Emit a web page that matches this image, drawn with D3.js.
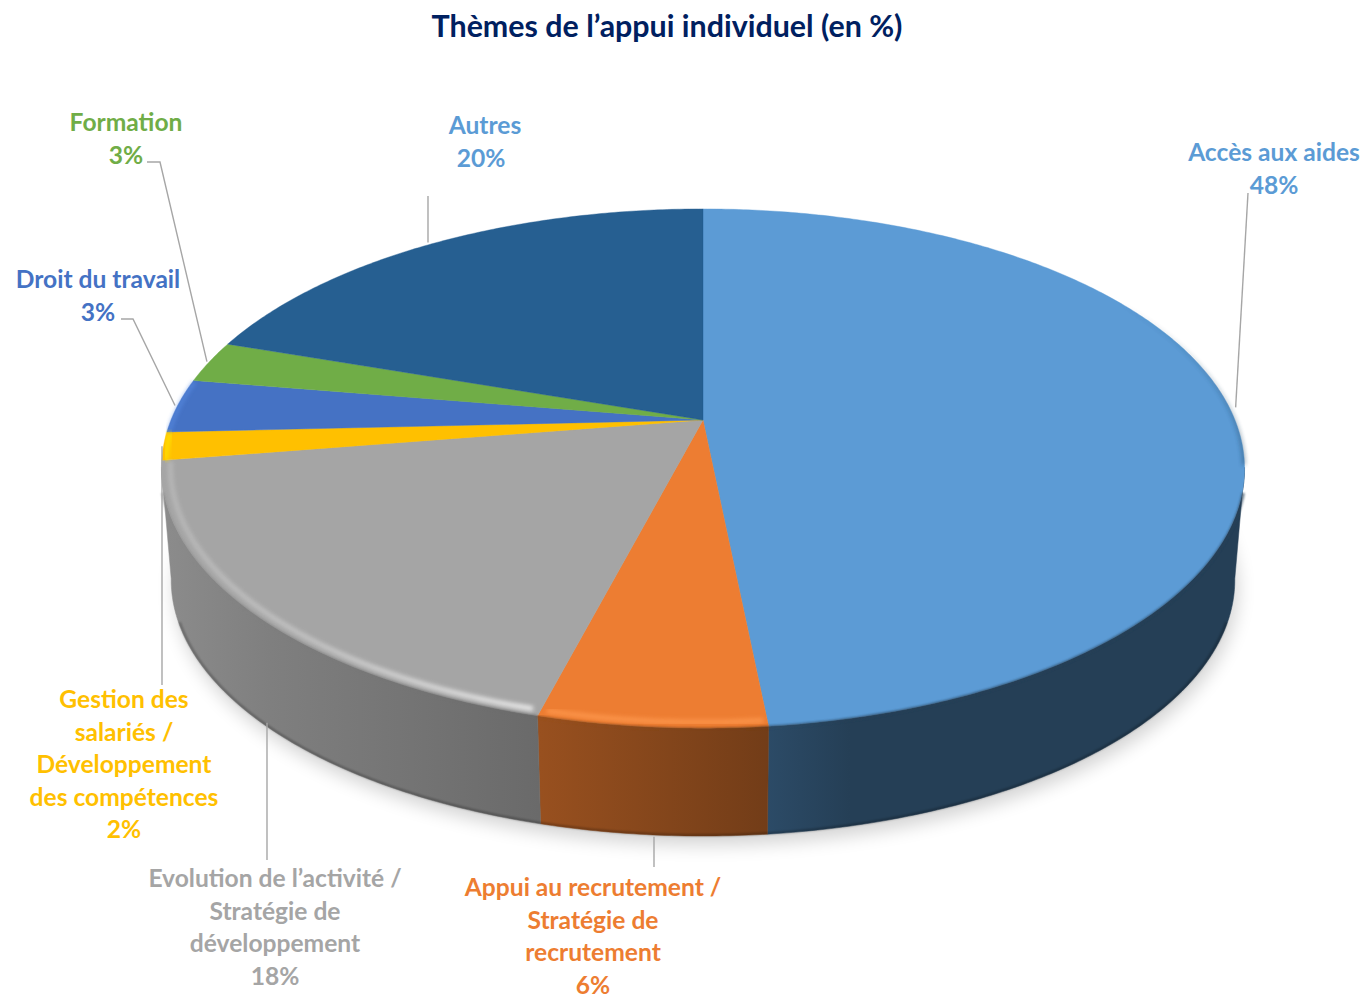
<!DOCTYPE html>
<html>
<head>
<meta charset="utf-8">
<script src="https://cdn.jsdelivr.net/npm/d3@7"></script>
<style>
  html, body { margin: 0; background: #fff; }
  svg { display: block; }
  text { font-family: Lato, "Open Sans", sans-serif; font-weight: 700; }
</style>
</head>
<body>
<div id="chart"></div>
<script>
const categories = ['Accès aux aides', 'Appui au recrutement / Stratégie de recrutement',
  'Evolution de l’activité / Stratégie de développement', 'Gestion des salariés / Développement des compétences',
  'Droit du travail', 'Formation', 'Autres'];
const values = [48.4, 5.7, 18.4, 1.75, 3.35, 2.6, 19.8];
const sliceColors = ['#5b9bd5', '#ed7d31', '#a5a5a5', '#ffc000', '#4472c4', '#70ad47', '#255e91'];
const labelColors = ['#5b9bd5', '#ed7d31', '#a5a5a5', '#ffc000', '#4472c4', '#70ad47', '#5b9bd5'];
const labelLines = [
  ['Accès aux aides'],
  ['Appui au recrutement /', 'Stratégie de', 'recrutement'],
  ['Evolution de l’activité /', 'Stratégie de', 'développement'],
  ['Gestion des', 'salariés /', 'Développement', 'des compétences'],
  ['Droit du travail'],
  ['Formation'],
  ['Autres']
];

const width = 1365, height = 994;

// label layout: centre x, y of first line, x of the % line when it differs
const labelPos = [[1274, 161], [593, 896], [275, 887], [124, 708], [98, 288], [126, 131], [485, 134]];
const pctX = [1274, 593, 275, 124, 98, 126, 481];
// where the leader leaves the label, rim it ends on, how far it reaches, and if it stays vertical
const leaderStart = [[[1248, 193]], [[654, 867]], [[267, 860]], [[162, 685]], [[121, 319], [133, 319]], [[147, 162], [160, 162]], [[428, 196]]];
const leaderRim = ['top', 'bottom', 'bottom', 'top', 'top', 'top', 'top'];
const leaderReach = [1.012, 1.005, 1.005, 1.005, 1.005, 1.005, 1.005];
const leaderVertical = [false, true, true, true, false, false, true];

// perspective disc: the pie centre sits above the middle of the ellipse
const cx = 703, apexY = 420, k = -0.187, rx = 532, ry = 172;
const midY = 468.5, depth = 111.5, lowX = 0.982, lowY = 0.986;

function topPoint(a, r = 1) {
  const u = r * Math.sin(a), v = -r * Math.cos(a), w = 1 + k * v;
  return [cx + rx * u / w, (apexY + ry * v) / w];
}
function lowPoint(a, r = 1) {
  const p = topPoint(a, r);
  return [cx + (p[0] - cx) * lowX, midY + (p[1] - midY) * lowY + depth];
}
function sample(a0, a1) {
  const n = Math.max(2, Math.ceil(Math.abs(a1 - a0) / 0.01));
  return d3.range(n + 1).map(i => a0 + (a1 - a0) * i / n);
}

const rad = d => d * Math.PI / 180;
const pct = d3.format('.0f');
const line = d3.line();

const pie = d3.pie().sort(null).value(d => d)(values);

const svg = d3.select('#chart').append('svg')
  .attr('width', width)
  .attr('height', height);

const defs = svg.append('defs');
[['blurShadow', 9], ['blurRim', 2], ['blurEdge', 1], ['blurSoft', 0.6]].forEach(f => {
  defs.append('filter').attr('id', f[0])
    .attr('x', '-10%').attr('y', '-10%').attr('width', '120%').attr('height', '120%')
    .append('feGaussianBlur').attr('stdDeviation', f[1]);
});

// horizontal shading of the wall, light on the left and dark on the right
const shadeX = [160, 270, 540, 765, 850, 1250];
const shadeK = [0.85, 0.77, 0.64, 0.485, 0.405, 0.405];
const shade = d3.scaleLinear().domain(shadeX).range(shadeK);

pie.forEach((d, i) => {
  const c = d3.rgb(sliceColors[i]);
  const g = defs.append('linearGradient').attr('id', 'wall' + i)
    .attr('gradientUnits', 'userSpaceOnUse')
    .attr('x1', shadeX[0]).attr('x2', shadeX[shadeX.length - 1]).attr('y1', 0).attr('y2', 0);
  shadeX.forEach(x => {
    const s = shade(x);
    g.append('stop')
      .attr('offset', (x - shadeX[0]) / (shadeX[shadeX.length - 1] - shadeX[0]))
      .attr('stop-color', d3.rgb(c.r * s, c.g * s, c.b * s));
  });
});

// rim strokes that fade along their length
const blueRim = defs.append('linearGradient').attr('id', 'rimBlue')
  .attr('gradientUnits', 'userSpaceOnUse')
  .attr('x1', 0).attr('x2', 0).attr('y1', 300).attr('y2', 480);
blueRim.append('stop').attr('offset', 0).attr('stop-color', '#21435f').attr('stop-opacity', 0);
blueRim.append('stop').attr('offset', 1).attr('stop-color', '#21435f').attr('stop-opacity', 1);
const greyRim = defs.append('linearGradient').attr('id', 'rimGrey')
  .attr('gradientUnits', 'userSpaceOnUse')
  .attr('x1', 170).attr('x2', 540).attr('y1', 0).attr('y2', 0);
greyRim.append('stop').attr('offset', 0).attr('stop-color', '#b8b8b8');
greyRim.append('stop').attr('offset', 0.45).attr('stop-color', '#c8c8c8');
greyRim.append('stop').attr('offset', 1).attr('stop-color', '#f0f0f0');

// shadow on the page under the pie
const lowOutline = sample(0, 2 * Math.PI).map(a => lowPoint(a));
svg.append('path')
  .attr('d', line(lowOutline) + 'Z')
  .attr('transform', 'translate(3,9)')
  .attr('fill', '#000')
  .attr('opacity', 0.17)
  .attr('filter', 'url(#blurShadow)');

// only the front of the wall can be seen, between the two widest points of the ellipse
const frontFrom = rad(100.5), frontTo = rad(259.5);
const clampFront = d => [Math.max(d.startAngle, frontFrom), Math.min(d.endAngle, frontTo)];

const walls = svg.append('g').attr('class', 'walls');
pie.forEach((d, i) => {
  const [a0, a1] = clampFront(d);
  if (a1 <= a0) return;
  const as = sample(a0, a1);
  walls.append('path')
    .attr('d', line(as.map(a => topPoint(a)).concat(as.slice().reverse().map(a => lowPoint(a)))) + 'Z')
    .attr('fill', `url(#wall${i})`)
    .attr('stroke', `url(#wall${i})`)
    .attr('stroke-width', 0.5);
});
// darker line where the wall meets the page
svg.append('path')
  .attr('d', line(sample(rad(110), rad(250)).map(a => lowPoint(a, 0.998))))
  .attr('fill', 'none')
  .attr('stroke', '#000')
  .attr('stroke-width', 2)
  .attr('opacity', 0.3)
  .attr('filter', 'url(#blurEdge)');

const topGroup = svg.append('g').attr('filter', 'url(#blurSoft)');
topGroup.selectAll('path')
  .data(pie)
  .join('path')
  .attr('d', d => line([topPoint(0, 0)].concat(sample(d.startAngle, d.endAngle).map(a => topPoint(a)))) + 'Z')
  .attr('fill', (d, i) => sliceColors[i])
  .attr('stroke', (d, i) => sliceColors[i])
  .attr('stroke-width', 0.4);

// soft dark edge of the top face over the wall, kept off the two widest points
pie.forEach((d, i) => {
  const a0 = Math.max(d.startAngle, rad(106)), a1 = Math.min(d.endAngle, rad(254));
  if (a1 <= a0) return;
  svg.append('path')
    .attr('d', line(sample(a0, a1).map(a => topPoint(a, 1.002))))
    .attr('fill', 'none')
    .attr('stroke', `url(#wall${i})`)
    .attr('stroke-width', 3)
    .attr('opacity', 0.7)
    .attr('filter', 'url(#blurEdge)');
});

// bevel on the rim of the top face
const rimFrom = [rad(55), rad(174.6), rad(195.5), rad(261), rad(267.3)];
const rimTo = [rad(100), rad(194.2), rad(260.6), rad(267.2), rad(279)];
const rimStroke = ['url(#rimBlue)', '#ff9a50', 'url(#rimGrey)', '#ffe000', '#5a8ee6'];
const rimInset = [0.999, 0.984, 0.984, 0.993, 0.996];
const rimWidth = [2.5, 5, 5, 5, 3];
const rimOpacity = [0.7, 0.8, 0.95, 0.9, 0.8];
rimFrom.forEach((a0, i) => {
  svg.append('path')
    .attr('d', line(sample(a0, rimTo[i]).map(a => topPoint(a, rimInset[i]))))
    .attr('fill', 'none')
    .attr('stroke', rimStroke[i])
    .attr('stroke-width', rimWidth[i])
    .attr('opacity', rimOpacity[i])
    .attr('filter', 'url(#blurRim)');
});

// leader lines
pie.forEach((d, i) => {
  const mid = (d.startAngle + d.endAngle) / 2;
  const end = leaderRim[i] === 'top' ? topPoint(mid, leaderReach[i]) : lowPoint(mid, leaderReach[i]);
  if (leaderVertical[i]) end[0] = leaderStart[i][0][0];
  svg.append('path')
    .attr('d', line(leaderStart[i].concat([end])))
    .attr('fill', 'none')
    .attr('stroke', '#a6a6a6')
    .attr('stroke-width', 1.4);
});

// labels
const lineGap = 32.5;
pie.forEach((d, i) => {
  const t = svg.append('text')
    .attr('text-anchor', 'middle')
    .attr('font-size', 24.6)
    .attr('fill', labelColors[i]);
  labelLines[i].forEach((s, j) => {
    t.append('tspan')
      .attr('x', labelPos[i][0])
      .attr('y', labelPos[i][1] + j * lineGap)
      .text(s);
  });
  t.append('tspan')
    .attr('x', pctX[i])
    .attr('y', labelPos[i][1] + labelLines[i].length * lineGap)
    .text(pct(d.value) + '%');
});

svg.append('text')
  .attr('x', 667)
  .attr('y', 37)
  .attr('text-anchor', 'middle')
  .attr('font-size', 30.4)
  .attr('fill', '#002060')
  .text('Thèmes de l’appui individuel (en %)');
</script>
</body>
</html>
